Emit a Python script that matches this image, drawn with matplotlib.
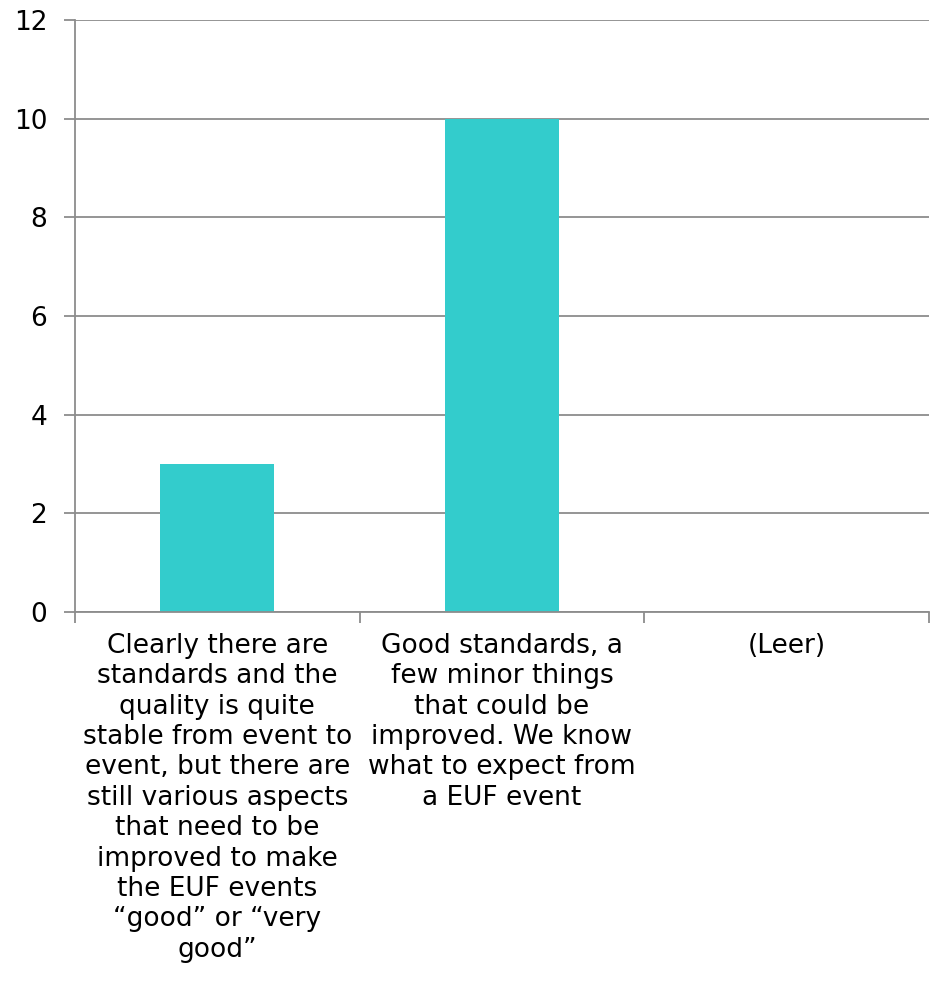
import matplotlib
matplotlib.use("Agg")
import matplotlib.pyplot as plt

categories = [
    "Clearly there are\nstandards and the\nquality is quite\nstable from event to\nevent, but there are\nstill various aspects\nthat need to be\nimproved to make\nthe EUF events\n\u201cgood\u201d or \u201cvery\ngood\u201d",
    "Good standards, a\nfew minor things\nthat could be\nimproved. We know\nwhat to expect from\na EUF event",
    "(Leer)",
]
values = [3, 10, 0]
yticks = [0, 2, 4, 6, 8, 10, 12]

plt.rcParams['font.family'] = ['DejaVu Sans']
fig = plt.figure(figsize=(9.32, 9.84), dpi=100)
ax = fig.add_axes([75/932, 1-612/984, (929-75)/932, (612-20)/984])

gc = '#8c8c8c'
x = list(range(len(categories)))
ax.bar(x, values, width=0.4, color='#33CCCC', zorder=3)
ax.set_xlim(-0.5, len(categories)-0.5)
ax.set_ylim(0, 12)
ax.set_yticks(yticks)
ax.set_yticklabels([str(v) for v in yticks], fontsize=19)
ax.yaxis.grid(True, color=gc, linewidth=1.3, zorder=0)
ax.set_xticks(x)
ax.set_xticklabels(categories, fontsize=19, linespacing=1.22, va='top', ha='center')
ax.tick_params(axis='x', length=0, pad=15)
ax.set_xticks([i-0.5 for i in range(len(categories)+1)], minor=True)
ax.tick_params(axis='x', which='minor', length=8, width=1.3, color=gc)
ax.tick_params(axis='y', length=8, width=1.3, color=gc, pad=12)
for s in ['top', 'right']:
    ax.spines[s].set_visible(False)
for s in ['left', 'bottom']:
    ax.spines[s].set_color(gc)
    ax.spines[s].set_linewidth(1.3)
    ax.spines[s].set_zorder(4)

fig.savefig('out.png', dpi=100)
